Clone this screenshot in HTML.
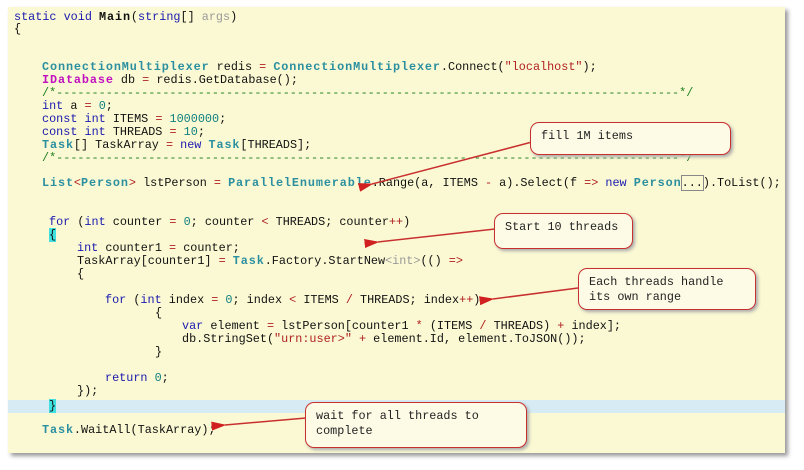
<!DOCTYPE html>
<html><head><style>
body{margin:0;width:804px;height:470px;background:#fff;position:relative;overflow:hidden;font-family:"Liberation Mono","DejaVu Sans Mono",monospace}
.paper{position:absolute;left:8px;top:7px;width:777px;height:446px;background:#fbf9d3;box-shadow:3px 3px 4px #999}
.hl{position:absolute;left:8px;top:400px;width:777px;height:13px;background:#d6ebf3}
.l{position:absolute;white-space:pre;font-size:11.8px;line-height:13px;color:#111}
.k{color:#1a1ab0}.t{color:#2b8fa0;font-weight:bold;letter-spacing:0.9px}.m{color:#c010c0;font-weight:bold;letter-spacing:0.9px}
.n{color:#108080}.o{color:#b02020}.s{color:#b02020}.c{color:#208020}.g{color:#999}
.b{font-weight:bold;letter-spacing:0.9px}
.box{position:absolute;background:#fdfbe6;border:1.5px solid #c83030;border-radius:9px;box-shadow:2px 2px 3px #aaa;font-size:11.8px;line-height:15px;padding:6px 10px;white-space:pre;color:#222;box-sizing:border-box}
svg{position:absolute;left:0;top:0}
</style></head><body>
<div class="paper"></div>
<div class="hl"></div>
<div class="l" style="left:14px;top:11px"><span class="k">static</span> <span class="k">void</span> <span class="b">Main</span>(<span class="k">string</span>[] <span class="g">args</span>)</div>
<div class="l" style="left:14px;top:23px">{</div>
<div class="l" style="left:42px;top:61px"><span class="t">ConnectionMultiplexer</span> redis <span class="o">=</span> <span class="t">ConnectionMultiplexer</span>.Connect(<span class="s">"localhost"</span>);</div>
<div class="l" style="left:42px;top:74px"><span class="m">IDatabase</span> db <span class="o">=</span> redis.GetDatabase();</div>
<div class="l c" style="left:42px;top:87px">/*----------------------------------------------------------------------------------------*/</div>
<div class="l" style="left:42px;top:100px"><span class="k">int</span> a <span class="o">=</span> <span class="n">0</span>;</div>
<div class="l" style="left:42px;top:113px"><span class="k">const</span> <span class="k">int</span> ITEMS <span class="o">=</span> <span class="n">1000000</span>;</div>
<div class="l" style="left:42px;top:126px"><span class="k">const</span> <span class="k">int</span> THREADS <span class="o">=</span> <span class="n">10</span>;</div>
<div class="l" style="left:42px;top:139px"><span class="t">Task</span>[] TaskArray <span class="o">=</span> <span class="k">new</span> <span class="t">Task</span>[THREADS];</div>
<div class="l c" style="left:42px;top:152px">/*----------------------------------------------------------------------------------------*/</div>
<div class="l" style="left:42px;top:177px"><span class="t">List</span><span class="o">&lt;</span><span class="t">Person</span><span class="o">&gt;</span> lstPerson <span class="o">=</span> <span class="t">ParallelEnumerable</span>.Range(a, ITEMS <span class="o">-</span> a).Select(f <span class="o">=&gt;</span> <span class="k">new</span> <span class="t">Person</span><span style="outline:1px solid #888">...</span>).ToList();</div>
<div class="l" style="left:49px;top:216px"><span class="k">for</span> (<span class="k">int</span> counter <span class="o">=</span> <span class="n">0</span>; counter <span class="o">&lt;</span> THREADS; counter<span class="o">++</span>)</div>
<div class="l" style="left:49px;top:229px"><span style="background:#40e0e0">{</span></div>
<div class="l" style="left:77px;top:242px"><span class="k">int</span> counter1 <span class="o">=</span> counter;</div>
<div class="l" style="left:77px;top:255px">TaskArray[counter1] <span class="o">=</span> <span class="t">Task</span>.Factory.StartNew<span class="g">&lt;int&gt;</span>(() <span class="o">=&gt;</span></div>
<div class="l" style="left:77px;top:268px">{</div>
<div class="l" style="left:105px;top:294px"><span class="k">for</span> (<span class="k">int</span> index <span class="o">=</span> <span class="n">0</span>; index <span class="o">&lt;</span> ITEMS <span class="o">/</span> THREADS; index<span class="o">++</span>)</div>
<div class="l" style="left:155px;top:307px">{</div>
<div class="l" style="left:182px;top:320px"><span class="k">var</span> element <span class="o">=</span> lstPerson[counter1 <span class="o">*</span> (ITEMS <span class="o">/</span> THREADS) <span class="o">+</span> index];</div>
<div class="l" style="left:182px;top:333px">db.StringSet(<span class="s">"urn:user&gt;"</span> <span class="o">+</span> element.Id, element.ToJSON());</div>
<div class="l" style="left:155px;top:346px">}</div>
<div class="l" style="left:105px;top:372px"><span class="k">return</span> <span class="n">0</span>;</div>
<div class="l" style="left:77px;top:385px">});</div>
<div class="l" style="left:49px;top:400px"><span style="background:#40e0e0">}</span></div>
<div class="l" style="left:42px;top:424px"><span class="t">Task</span>.WaitAll(TaskArray);</div>
<svg width="804" height="470">
<defs><marker id="a" markerWidth="10" markerHeight="6" refX="1" refY="3" orient="auto-start-reverse"><path d="M10,0 L0,3 L10,6 Z" fill="#d02020"/></marker></defs>
<g stroke="#c83030" stroke-width="1.5" fill="none">
<line x1="532" y1="142" x2="372" y2="184" marker-end="url(#a)"/>
<line x1="495" y1="229" x2="378" y2="242" marker-end="url(#a)"/>
<line x1="578" y1="288" x2="493" y2="299" marker-end="url(#a)"/>
<line x1="306" y1="418" x2="225" y2="425" marker-end="url(#a)"/>
</g></svg>
<div class="box" style="left:530px;top:122px;width:201px;height:33px">fill 1M items</div>
<div class="box" style="left:494px;top:213px;width:139px;height:36px">Start 10 threads</div>
<div class="box" style="left:578px;top:268px;width:178px;height:42px">Each threads handle
its own range</div>
<div class="box" style="left:305px;top:402px;width:222px;height:46px">wait for all threads to
complete</div>
</body></html>
